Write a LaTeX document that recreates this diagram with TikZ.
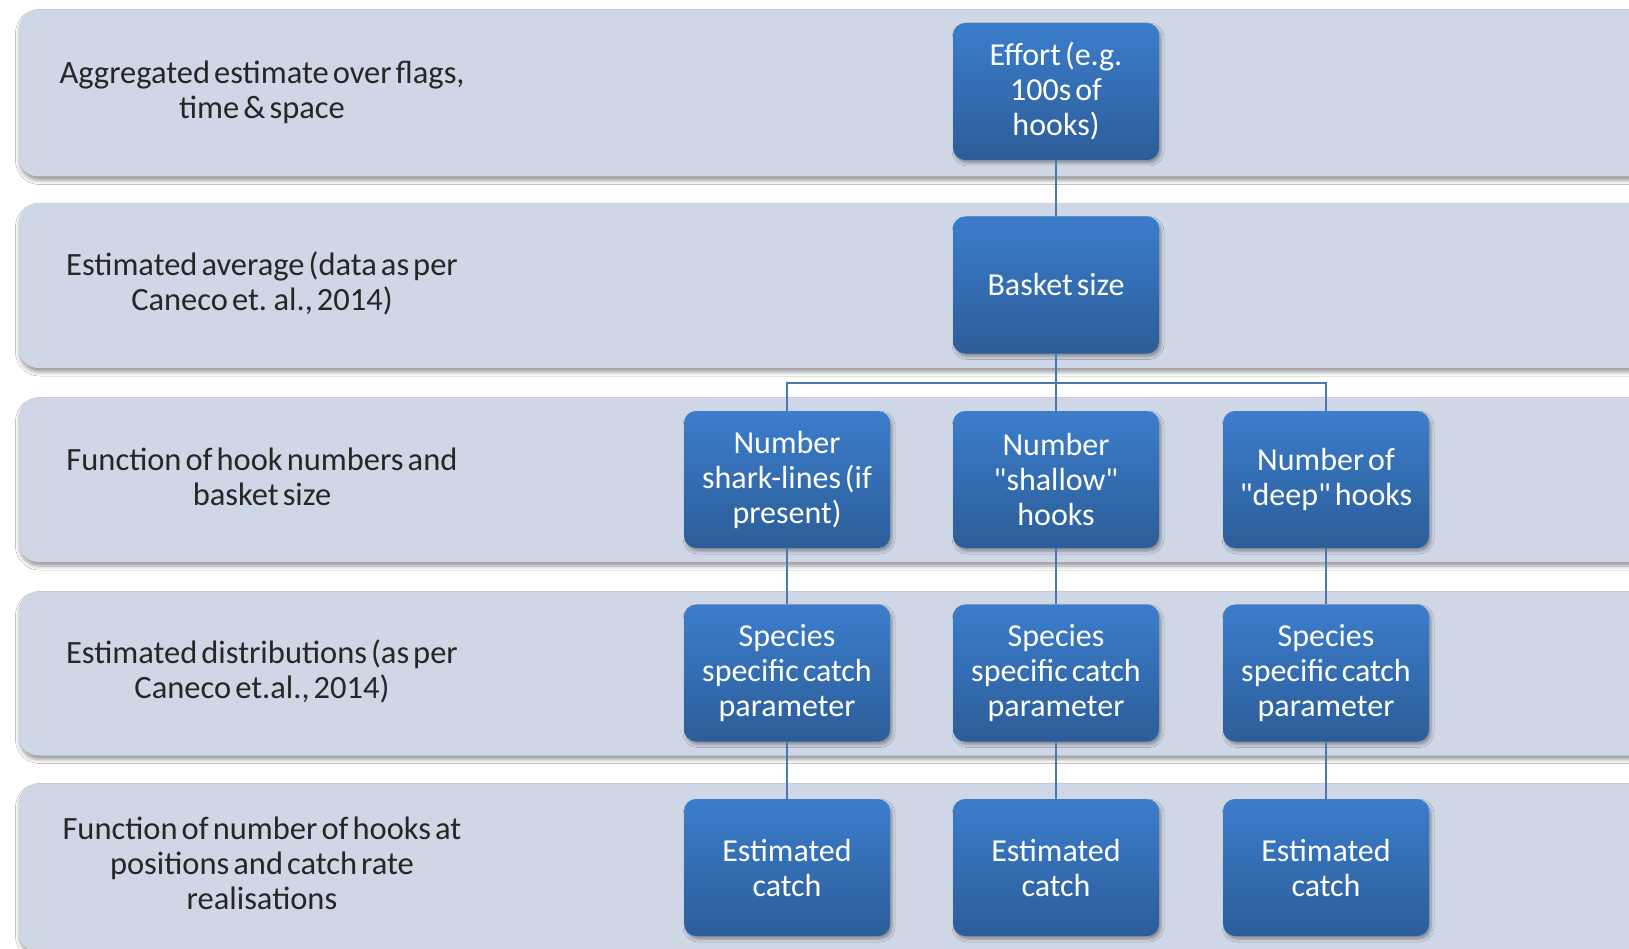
\documentclass[tikz,border=0pt]{standalone}
\usepackage{fontspec}
\setmainfont{Carlito}[WordSpace=0.55]
\usetikzlibrary{shadows.blur}
\definecolor{bandfill}{HTML}{CFD6E5}
\definecolor{boxtop}{HTML}{3B7DCC}
\definecolor{boxbot}{HTML}{2C5D98}
\definecolor{conncol}{HTML}{4A78B0}
\definecolor{txt}{HTML}{262626}
\begin{document}
\begin{tikzpicture}[x=1pt,y=-1pt,
  band/.style={fill=bandfill, rounded corners=20pt,
    blur shadow={shadow xshift=1pt, shadow yshift=-4pt, shadow blur radius=4pt, shadow opacity=40}},
  blk/.style={rounded corners=12pt, top color=boxtop, bottom color=boxbot, draw=none,
    minimum width=206pt, minimum height=137pt, text width=200pt, align=flush center,
    text=white, font=\fontsize{32}{35}\selectfont, inner sep=0pt,
    blur shadow={shadow xshift=2pt, shadow yshift=-3pt, shadow blur radius=3pt, shadow opacity=35}},
  lab/.style={text=txt, align=center, font=\fontsize{32.5}{35}\selectfont},
  conn/.style={draw=conncol, line width=2pt}]
\useasboundingbox (0,0) rectangle (1629,949);
\fill[white] (0,0) rectangle (1629,949);
% bands
\path[band] (18.5,9.5) rectangle (1665,176.5);
\path[band] (18.5,203) rectangle (1665,368);
\path[band] (18.5,397.5) rectangle (1665,562);
\path[band] (18.5,591.5) rectangle (1665,755.5);
\path[band] (18.5,783.5) rectangle (1665,952);
% left labels
\node[lab] (l1) at (262,92) {Aggregated estimate over flags,\\time \& space};
\node[lab] (l2) at (262,283) {Estimated average (data as per\\Caneco et. al., 2014)};
\node[lab] (l3) at (262,477) {Function of hook numbers and\\basket size};
\node[lab] (l4) at (262,671) {Estimated distributions (as per\\Caneco et.al., 2014)};
\node[lab] (l5) at (262,863) {Function of number of hooks at\\positions and catch rate\\realisations};
% boxes
\node[blk] (eff) at (1056,91.5) {Effort (e.g.\\100s of\\hooks)};
\node[blk] (bas) at (1056,285) {Basket size};
\node[blk] (n1) at (787,479.5) {Number\\shark-lines (if\\present)};
\node[blk] (n2) at (1056,479.5) {Number\\\textquotedbl shallow\textquotedbl\\hooks};
\node[blk] (n3) at (1326,479.5) {Number of\\\textquotedbl deep\textquotedbl{} hooks};
\node[blk] (s1) at (787,673) {Species\\specific catch\\parameter};
\node[blk] (s2) at (1056,673) {Species\\specific catch\\parameter};
\node[blk] (s3) at (1326,673) {Species\\specific catch\\parameter};
\node[blk] (c1) at (787,867.5) {Estimated\\catch};
\node[blk] (c2) at (1056,867.5) {Estimated\\catch};
\node[blk] (c3) at (1326,867.5) {Estimated\\catch};
\coordinate (bus) at (1056,383);
% connectors
\draw[conn] (eff.south) -- (bas.north);
\draw[conn] (bas.south) -- (n2.north);
\draw[conn] (n1.north) -- (n1.north |- bus) -- (n3.north |- bus) -- (n3.north);
\draw[conn] (n1.south) -- (s1.north);
\draw[conn] (n2.south) -- (s2.north);
\draw[conn] (n3.south) -- (s3.north);
\draw[conn] (s1.south) -- (c1.north);
\draw[conn] (s2.south) -- (c2.north);
\draw[conn] (s3.south) -- (c3.north);
\end{tikzpicture}
\end{document}
